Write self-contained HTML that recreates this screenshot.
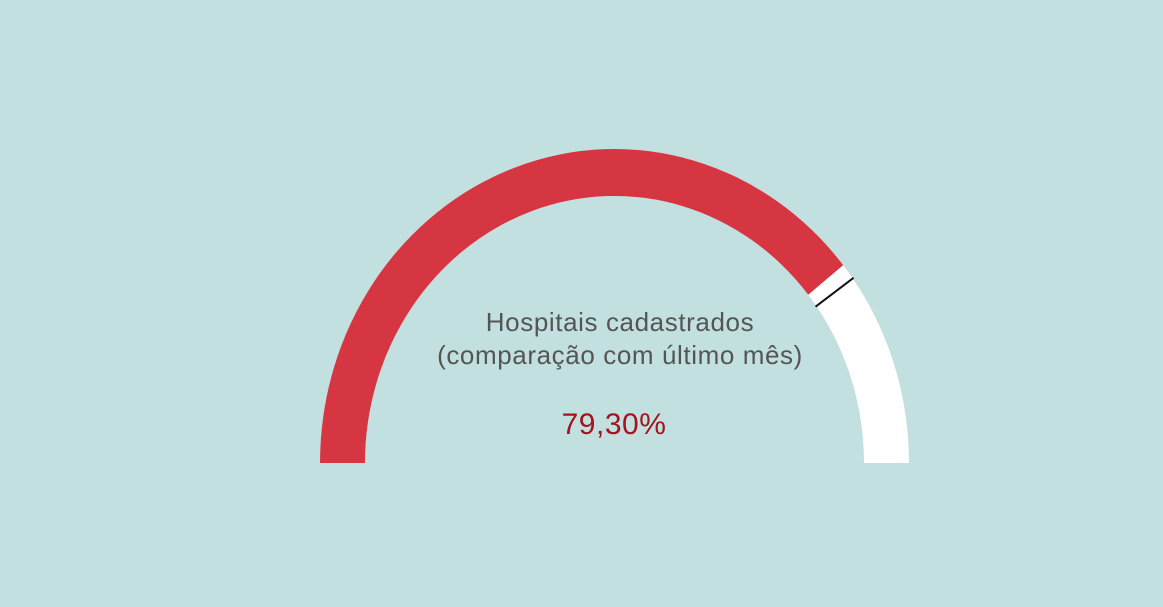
<!DOCTYPE html>
<html><head><meta charset="utf-8"><style>
html,body{margin:0;padding:0;background:#c2e0df;}
svg{display:block;font-family:"Liberation Sans",sans-serif;}
</style></head><body>
<svg id="g" width="1163" height="607">
<rect width="1163" height="607" fill="#c2e0df"/>
<g id="arcs"></g>
<text x="620" y="331" text-anchor="middle" font-size="26" letter-spacing="0.6" fill="#555">Hospitais cadastrados</text>
<text x="620" y="364" text-anchor="middle" font-size="26" letter-spacing="0.6" fill="#555">(comparação com último mês)</text>
<text id="val" x="614" y="434" text-anchor="middle" font-size="30" letter-spacing="0.5" fill="#a3141f"></text>
</svg>
<script>
const values=[79.3];
const target=[80.0];
const maxValue=[100];
const cx=614.5, cy=463, rxo=294.5, ryo=314, rxi=249.5, ryi=267;
function pt(p,rx,ry){const a=Math.PI*(1-p/maxValue[0]);return [cx+rx*Math.cos(a),cy-ry*Math.sin(a)];}
function seg(p0,p1){
  const a=pt(p0,rxo,ryo),b=pt(p1,rxo,ryo),c=pt(p1,rxi,ryi),d=pt(p0,rxi,ryi);
  return `M${a[0]},${a[1]} A${rxo},${ryo} 0 0 1 ${b[0]},${b[1]} L${c[0]},${c[1]} A${rxi},${ryi} 0 0 0 ${d[0]},${d[1]} Z`;
}
const ns="http://www.w3.org/2000/svg", g=document.getElementById('arcs');
const bg=document.createElementNS(ns,'path');
bg.setAttribute('d',seg(0,maxValue[0]));bg.setAttribute('fill','#fff');


g.appendChild(bg);
const fg=document.createElementNS(ns,'path');
fg.setAttribute('d',seg(0,values[0]-1));fg.setAttribute('fill','#d63642');


g.appendChild(fg);
const o=pt(target[0],rxo+1,ryo+1),i=pt(target[0],rxi-1,ryi-1);
const ln=document.createElementNS(ns,'line');
ln.setAttribute('x1',o[0]);ln.setAttribute('y1',o[1]);ln.setAttribute('x2',i[0]);ln.setAttribute('y2',i[1]);
ln.setAttribute('stroke','#111');ln.setAttribute('stroke-width','2');


g.appendChild(ln);
document.getElementById('val').textContent=values[0].toFixed(2).replace('.',',')+'%';
</script>
</body></html>
